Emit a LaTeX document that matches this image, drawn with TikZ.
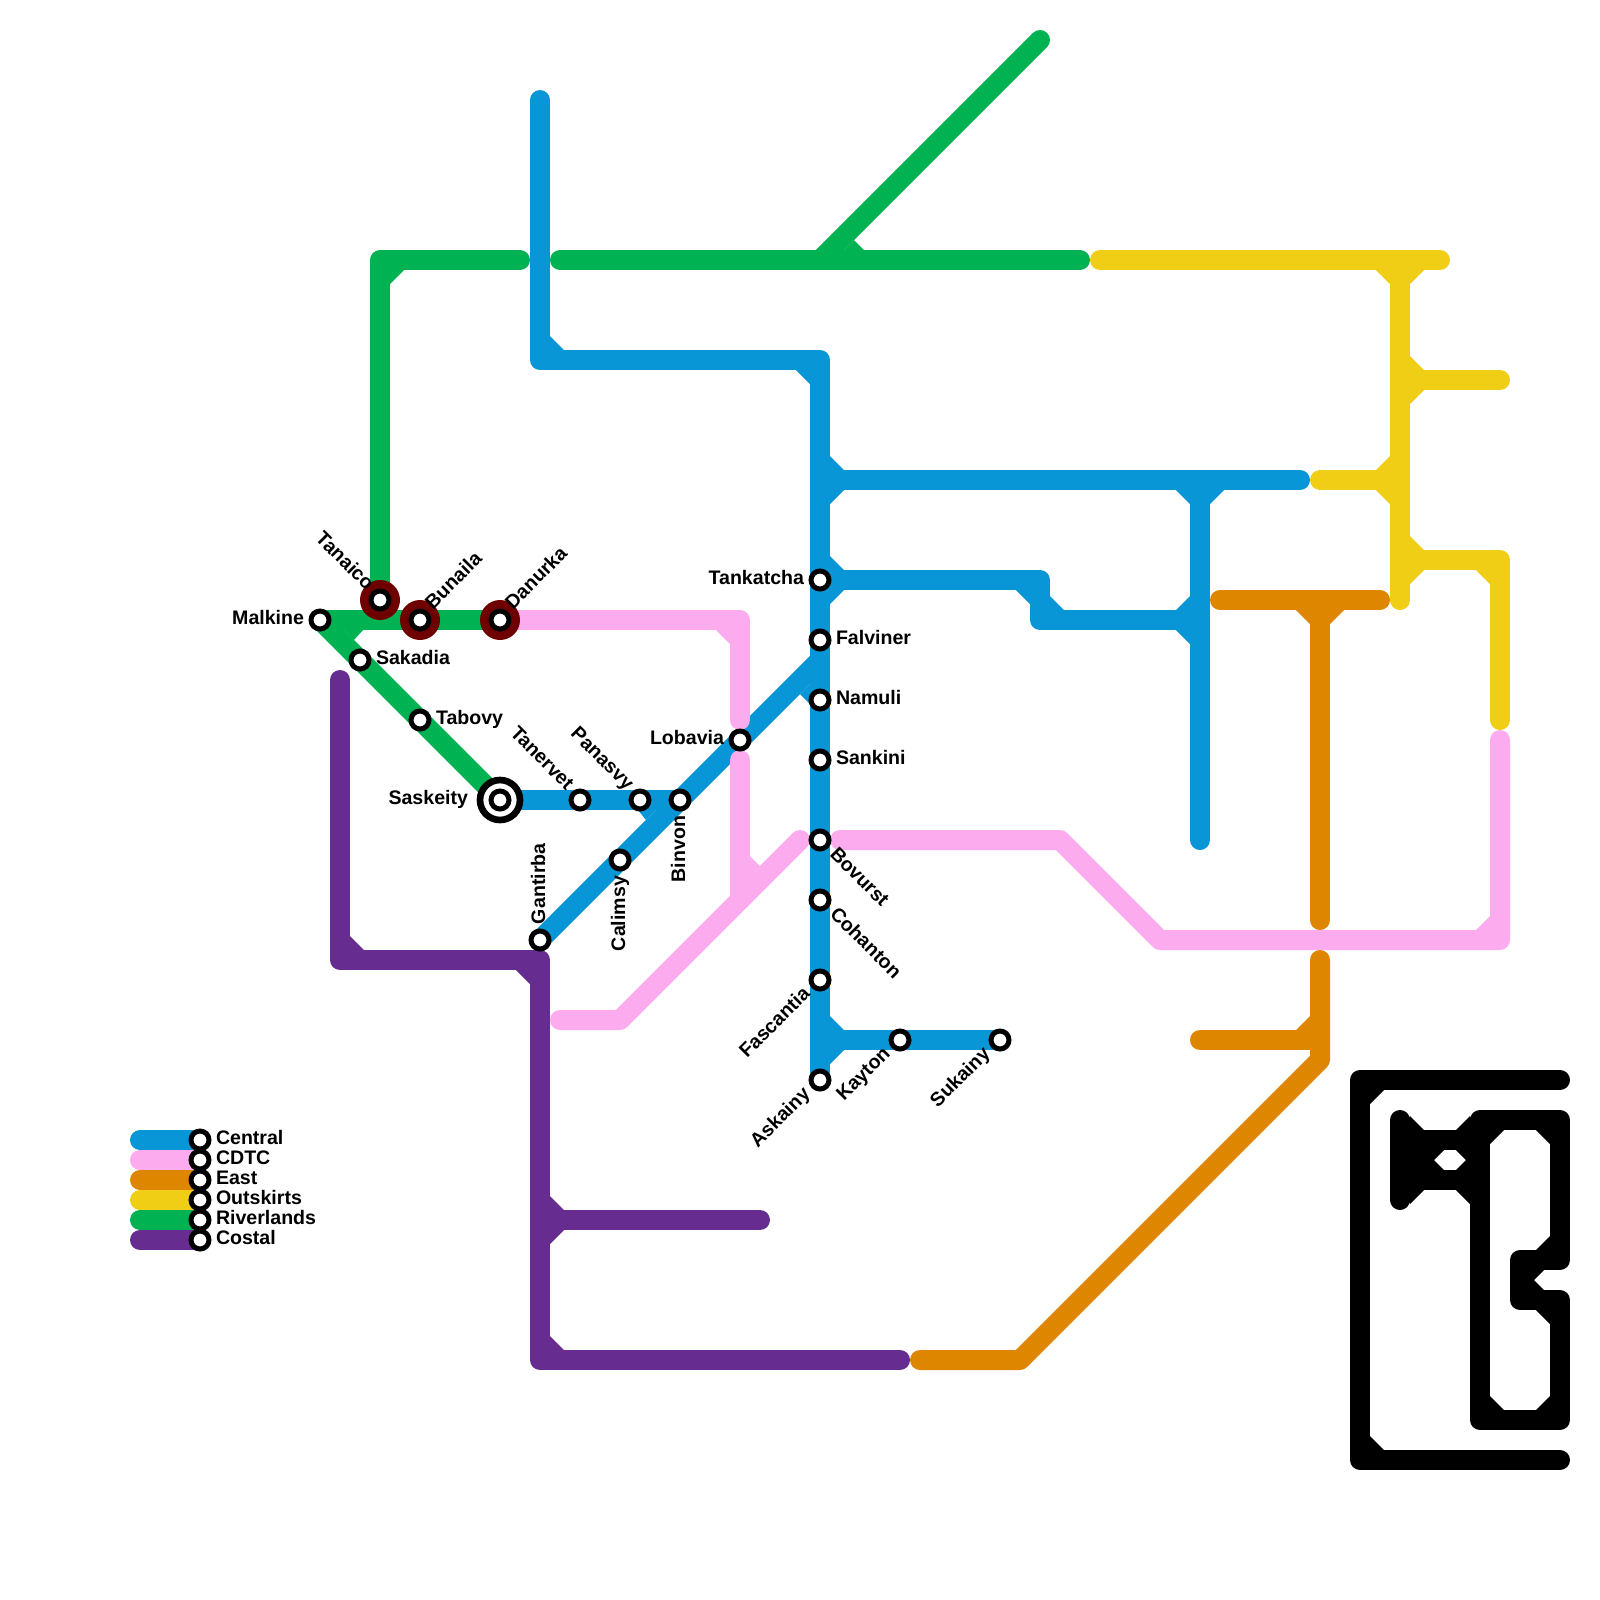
\documentclass[tikz,border=0pt]{standalone}
\usepackage{fontspec}
\setmainfont{Liberation Sans}
\definecolor{central}{HTML}{0896D7}
\definecolor{cdtc}{HTML}{FCACEE}
\definecolor{east}{HTML}{DF8600}
\definecolor{outskirts}{HTML}{F0CE15}
\definecolor{riverlands}{HTML}{00B251}
\definecolor{costal}{HTML}{662C90}
\definecolor{transfer}{HTML}{6E0000}
\newcommand{\cnr}[3]{\fill (#1) -- ([shift={(1.2*#2,.5*#3)}]#1) -- ([shift={(.5*#2,1.2*#3)}]#1) -- cycle;}
\tikzset{
  route/.style={line width=0.2cm, line cap=round, line join=round},
  stn/.style={circle, draw=black, fill=white, line width=1.42pt, minimum size=0.18cm, inner sep=0pt},
  hub/.style={circle, fill=transfer, minimum size=0.4cm, inner sep=0pt},
  term/.style={circle, draw=black, fill=white, line width=1.9pt, minimum size=0.4cm, inner sep=0pt},
  lbl/.style={font=\bfseries\fontsize{5.57}{6}\selectfont, text=black, inner sep=0pt, outer sep=0pt},
  lr/.style={lbl, anchor=base west},
  ll/.style={lbl, anchor=base east}
}
\begin{document}
\begin{tikzpicture}[x=0.2cm, y=-0.2cm]
\useasboundingbox (0,0) rectangle (80,80);
\coordinate (malkine) at (16,31);
\coordinate (tanaico) at (19,30);
\coordinate (bunaila) at (21,31);
\coordinate (danurka) at (25,31);
\coordinate (sakadia) at (18,33);
\coordinate (tabovy) at (21,36);
\coordinate (saskeity) at (25,40);
\coordinate (tanervet) at (29,40);
\coordinate (panasvy) at (32,40);
\coordinate (binvon) at (34,40);
\coordinate (calimsy) at (31,43);
\coordinate (gantirba) at (27,47);
\coordinate (lobavia) at (37,37);
\coordinate (tankatcha) at (41,29);
\coordinate (falviner) at (41,32);
\coordinate (namuli) at (41,35);
\coordinate (sankini) at (41,38);
\coordinate (bovurst) at (41,42);
\coordinate (cohanton) at (41,45);
\coordinate (fascantia) at (41,49);
\coordinate (askainy) at (41,54);
\coordinate (kayton) at (45,52);
\coordinate (sukainy) at (50,52);

\coordinate (b1) at (27,5);
\coordinate (b2) at (27,18);
\coordinate (b3) at (41,18);
\coordinate (b4) at (41,24);
\coordinate (b5) at (65,24);
\coordinate (b6) at (60,24);
\coordinate (b7) at (60,42);
\coordinate (b8) at (52,29);
\coordinate (b9) at (52,31);
\coordinate (b10) at (60,31);
\coordinate (b11) at (41,33);
\coordinate (b12) at (41,52);
\coordinate (p1) at (37,31);
\coordinate (p2) at (37,36);
\coordinate (p3) at (37,38);
\coordinate (p4) at (37,45);
\coordinate (p5) at (28,51);
\coordinate (p6) at (31,51);
\coordinate (p7) at (40,42);
\coordinate (p8) at (42,42);
\coordinate (p9) at (53,42);
\coordinate (p10) at (58,47);
\coordinate (p11) at (75,47);
\coordinate (p12) at (75,37);
\coordinate (e1) at (61,30);
\coordinate (e2) at (69,30);
\coordinate (e3) at (66,30);
\coordinate (e4) at (66,46);
\coordinate (e5) at (66,48);
\coordinate (e6) at (66,53);
\coordinate (e7) at (51,68);
\coordinate (e8) at (46,68);
\coordinate (e9) at (60,52);
\coordinate (e10) at (66,52);
\coordinate (o1) at (55,13);
\coordinate (o2) at (72,13);
\coordinate (o3) at (70,13);
\coordinate (o4) at (70,30);
\coordinate (o5) at (70,19);
\coordinate (o6) at (75,19);
\coordinate (o7) at (66,24);
\coordinate (o8) at (70,24);
\coordinate (o9) at (70,28);
\coordinate (o10) at (75,28);
\coordinate (o11) at (75,36);
\coordinate (r1) at (19,13);
\coordinate (r2) at (26,13);
\coordinate (r3) at (28,13);
\coordinate (r4) at (54,13);
\coordinate (r5) at (41,13);
\coordinate (r6) at (52,2);
\coordinate (c1) at (17,34);
\coordinate (c2) at (17,48);
\coordinate (c3) at (27,48);
\coordinate (c4) at (27,68);
\coordinate (c5) at (45,68);
\coordinate (c6) at (27,61);
\coordinate (c7) at (38,61);
\coordinate (k1) at (78,54);
\coordinate (k2) at (68,54);
\coordinate (k3) at (68,73);
\coordinate (k4) at (78,73);
\coordinate (k5) at (70,56);
\coordinate (k6) at (70,60);
\coordinate (k7) at (70,57);
\coordinate (k8) at (74,57);
\coordinate (k9) at (70,59);
\coordinate (k10) at (74,59);
\coordinate (k11) at (71,57);
\coordinate (k12) at (71,59);
\coordinate (k13) at (74,56);
\coordinate (k14) at (78,56);
\coordinate (k15) at (78,63);
\coordinate (k16) at (76,63);
\coordinate (k17) at (76,65);
\coordinate (k18) at (78,65);
\coordinate (k19) at (78,71);
\coordinate (k20) at (74,71);
\coordinate (l1) at (7,57);
\coordinate (l2) at (7,58);
\coordinate (l3) at (7,59);
\coordinate (l4) at (7,60);
\coordinate (l5) at (7,61);
\coordinate (l6) at (7,62);
\coordinate (central) at (10,57);
\coordinate (cdtc) at (10,58);
\coordinate (east) at (10,59);
\coordinate (outskirts) at (10,60);
\coordinate (riverlands) at (10,61);
\coordinate (costal) at (10,62);

\begin{scope}[color=central, fill=central]
\draw[route] (b1) -- (b2) -- (b3) -- (askainy);
\draw[route] (b4) -- (b5);
\draw[route] (b6) -- (b7);
\draw[route] (tankatcha) -- (b8) -- (b9) -- (b10);
\draw[route] (gantirba) -- (b11);
\draw[route] (saskeity) -- (binvon);
\draw[route] (b12) -- (sukainy);
\cnr{b2}{1}{-1}
\cnr{b3}{-1}{1}
\cnr{b4}{1}{-1}
\cnr{b4}{1}{1}
\cnr{b6}{-1}{1}
\cnr{b6}{1}{1}
\cnr{tankatcha}{1}{-1}
\cnr{tankatcha}{1}{1}
\cnr{b8}{-1}{1}
\cnr{b9}{1}{-1}
\cnr{b10}{-1}{-1}
\cnr{b10}{-1}{1}
\cnr{b12}{1}{-1}
\cnr{b12}{1}{1}
\fill (40,34.7) -- (40.5,34.2) -- (40.5,35.2) -- cycle;
\fill (31.9,40.5) -- (32.79,40.5) -- (32.3,41) -- cycle;
\end{scope}

\begin{scope}[color=cdtc, fill=cdtc]
\draw[route] (danurka) -- (p1) -- (p2);
\draw[route] (p3) -- (p4);
\draw[route] (p5) -- (p6) -- (p7);
\draw[route] (p8) -- (p9) -- (p10) -- (p11) -- (p12);
\cnr{p1}{-1}{1}
\cnr{p11}{-1}{-1}
\fill (37.5,42.8) -- (37.5,43.8) -- (38,43.3) -- cycle;
\end{scope}

\begin{scope}[color=east, fill=east]
\draw[route] (e1) -- (e2);
\draw[route] (e3) -- (e4);
\draw[route] (e5) -- (e6) -- (e7) -- (e8);
\draw[route] (e9) -- (e10);
\cnr{e3}{-1}{1}
\cnr{e3}{1}{1}
\cnr{e10}{-1}{-1}
\end{scope}

\begin{scope}[color=outskirts, fill=outskirts]
\draw[route] (o1) -- (o2);
\draw[route] (o3) -- (o4);
\draw[route] (o5) -- (o6);
\draw[route] (o7) -- (o8);
\draw[route] (o9) -- (o10) -- (o11);
\cnr{o3}{-1}{1}
\cnr{o3}{1}{1}
\cnr{o5}{1}{-1}
\cnr{o5}{1}{1}
\cnr{o8}{-1}{-1}
\cnr{o8}{-1}{1}
\cnr{o9}{1}{-1}
\cnr{o9}{1}{1}
\cnr{o10}{-1}{1}
\end{scope}

\begin{scope}[color=riverlands, fill=riverlands]
\draw[route] (tanaico) -- (r1) -- (r2);
\draw[route] (r3) -- (r4);
\draw[route] (r5) -- (r6);
\draw[route] (malkine) -- (danurka);
\draw[route] (malkine) -- (saskeity);
\cnr{r1}{1}{1}
\fill (42.2,12.5) -- (43.2,12.5) -- (42.7,12) -- cycle;
\fill (17.2,31.5) -- (18.15,31.5) -- (17.7,32) -- cycle;
\end{scope}

\begin{scope}[color=costal, fill=costal]
\draw[route] (c1) -- (c2) -- (c3) -- (c4) -- (c5);
\draw[route] (c6) -- (c7);
\cnr{c2}{1}{-1}
\cnr{c3}{-1}{1}
\cnr{c4}{1}{-1}
\cnr{c6}{1}{-1}
\cnr{c6}{1}{1}
\end{scope}

\begin{scope}[color=black, fill=black]
\draw[route] (k1) -- (k2) -- (k3) -- (k4);
\draw[route] (k5) -- (k6);
\draw[route] (k7) -- (k8);
\draw[route] (k9) -- (k10);
\draw[route] (k11) -- (k12);
\draw[route] (k13) -- (k14) -- (k15) -- (k16) -- (k17) -- (k18) -- (k19) -- (k20) -- (k13);
\cnr{k2}{1}{1}
\cnr{k3}{1}{-1}
\cnr{k7}{1}{-1}
\cnr{k9}{1}{1}
\cnr{k8}{-1}{-1}
\cnr{k10}{-1}{1}
\cnr{k8}{-1}{1}
\cnr{k10}{-1}{-1}
\cnr{k11}{1}{1}
\cnr{k12}{1}{-1}
\cnr{k13}{1}{1}
\cnr{k14}{-1}{1}
\cnr{k15}{-1}{-1}
\cnr{k16}{1}{1}
\cnr{k17}{1}{-1}
\cnr{k18}{-1}{1}
\cnr{k19}{-1}{-1}
\cnr{k20}{1}{-1}
\end{scope}

\draw[route, central] (l1) -- (central);
\draw[route, cdtc] (l2) -- (cdtc);
\draw[route, east] (l3) -- (east);
\draw[route, outskirts] (l4) -- (outskirts);
\draw[route, riverlands] (l5) -- (riverlands);
\draw[route, costal] (l6) -- (costal);

\node[hub] (tanaico-h) at (tanaico) {};
\node[hub] (bunaila-h) at (bunaila) {};
\node[hub] (danurka-h) at (danurka) {};
\node[term] (saskeity-h) at (saskeity) {};

\node[stn] (malkine-s) at (malkine) {};
\node[stn] (tanaico-s) at (tanaico) {};
\node[stn] (bunaila-s) at (bunaila) {};
\node[stn] (danurka-s) at (danurka) {};
\node[stn] (sakadia-s) at (sakadia) {};
\node[stn] (tabovy-s) at (tabovy) {};
\node[stn] (saskeity-s) at (saskeity) {};
\node[stn] (tanervet-s) at (tanervet) {};
\node[stn] (panasvy-s) at (panasvy) {};
\node[stn] (binvon-s) at (binvon) {};
\node[stn] (calimsy-s) at (calimsy) {};
\node[stn] (gantirba-s) at (gantirba) {};
\node[stn] (lobavia-s) at (lobavia) {};
\node[stn] (tankatcha-s) at (tankatcha) {};
\node[stn] (falviner-s) at (falviner) {};
\node[stn] (namuli-s) at (namuli) {};
\node[stn] (sankini-s) at (sankini) {};
\node[stn] (bovurst-s) at (bovurst) {};
\node[stn] (cohanton-s) at (cohanton) {};
\node[stn] (fascantia-s) at (fascantia) {};
\node[stn] (askainy-s) at (askainy) {};
\node[stn] (kayton-s) at (kayton) {};
\node[stn] (sukainy-s) at (sukainy) {};
\node[stn] (central-s) at (central) {};
\node[stn] (cdtc-s) at (cdtc) {};
\node[stn] (east-s) at (east) {};
\node[stn] (outskirts-s) at (outskirts) {};
\node[stn] (riverlands-s) at (riverlands) {};
\node[stn] (costal-s) at (costal) {};

\node[ll] (malkine-t) at ([shift={(-.8,.2)}]malkine) {Malkine};
\node[ll, rotate=-45] (tanaico-t) at ([shift={(-.7,-.45)}]tanaico) {Tanaico};
\node[lr, rotate=45] (bunaila-t) at ([shift={(.65,-.5)}]bunaila) {Bunaila};
\node[lr, rotate=45] (danurka-t) at ([shift={(.65,-.5)}]danurka) {Danurka};
\node[lr] (sakadia-t) at ([shift={(.8,.2)}]sakadia) {Sakadia};
\node[lr] (tabovy-t) at ([shift={(.8,.2)}]tabovy) {Tabovy};
\node[ll] (saskeity-t) at ([shift={(-1.6,.2)}]saskeity) {Saskeity};
\node[ll, rotate=-45] (tanervet-t) at ([shift={(-.7,-.45)}]tanervet) {Tanervet};
\node[ll, rotate=-45] (panasvy-t) at ([shift={(-.7,-.45)}]panasvy) {Panasvy};
\node[ll, rotate=90] (binvon-t) at ([shift={(.25,.8)}]binvon) {Binvon};
\node[ll, rotate=90] (calimsy-t) at ([shift={(.25,.8)}]calimsy) {Calimsy};
\node[lr, rotate=90] (gantirba-t) at ([shift={(.25,-.8)}]gantirba) {Gantirba};
\node[ll] (lobavia-t) at ([shift={(-.8,.2)}]lobavia) {Lobavia};
\node[ll] (tankatcha-t) at ([shift={(-.8,.2)}]tankatcha) {Tankatcha};
\node[lr] (falviner-t) at ([shift={(.8,.2)}]falviner) {Falviner};
\node[lr] (namuli-t) at ([shift={(.8,.2)}]namuli) {Namuli};
\node[lr] (sankini-t) at ([shift={(.8,.2)}]sankini) {Sankini};
\node[lr, rotate=-45] (bovurst-t) at ([shift={(.45,.75)}]bovurst) {Bovurst};
\node[lr, rotate=-45] (cohanton-t) at ([shift={(.45,.75)}]cohanton) {Cohanton};
\node[ll, rotate=45] (fascantia-t) at ([shift={(-.45,.75)}]fascantia) {Fascantia};
\node[ll, rotate=45] (askainy-t) at ([shift={(-.45,.75)}]askainy) {Askainy};
\node[ll, rotate=45] (kayton-t) at ([shift={(-.45,.75)}]kayton) {Kayton};
\node[ll, rotate=45] (sukainy-t) at ([shift={(-.45,.75)}]sukainy) {Sukainy};
\node[lr] (central-t) at ([shift={(.8,.2)}]central) {Central};
\node[lr] (cdtc-t) at ([shift={(.8,.2)}]cdtc) {CDTC};
\node[lr] (east-t) at ([shift={(.8,.2)}]east) {East};
\node[lr] (outskirts-t) at ([shift={(.8,.2)}]outskirts) {Outskirts};
\node[lr] (riverlands-t) at ([shift={(.8,.2)}]riverlands) {Riverlands};
\node[lr] (costal-t) at ([shift={(.8,.2)}]costal) {Costal};
\end{tikzpicture}
\end{document}
